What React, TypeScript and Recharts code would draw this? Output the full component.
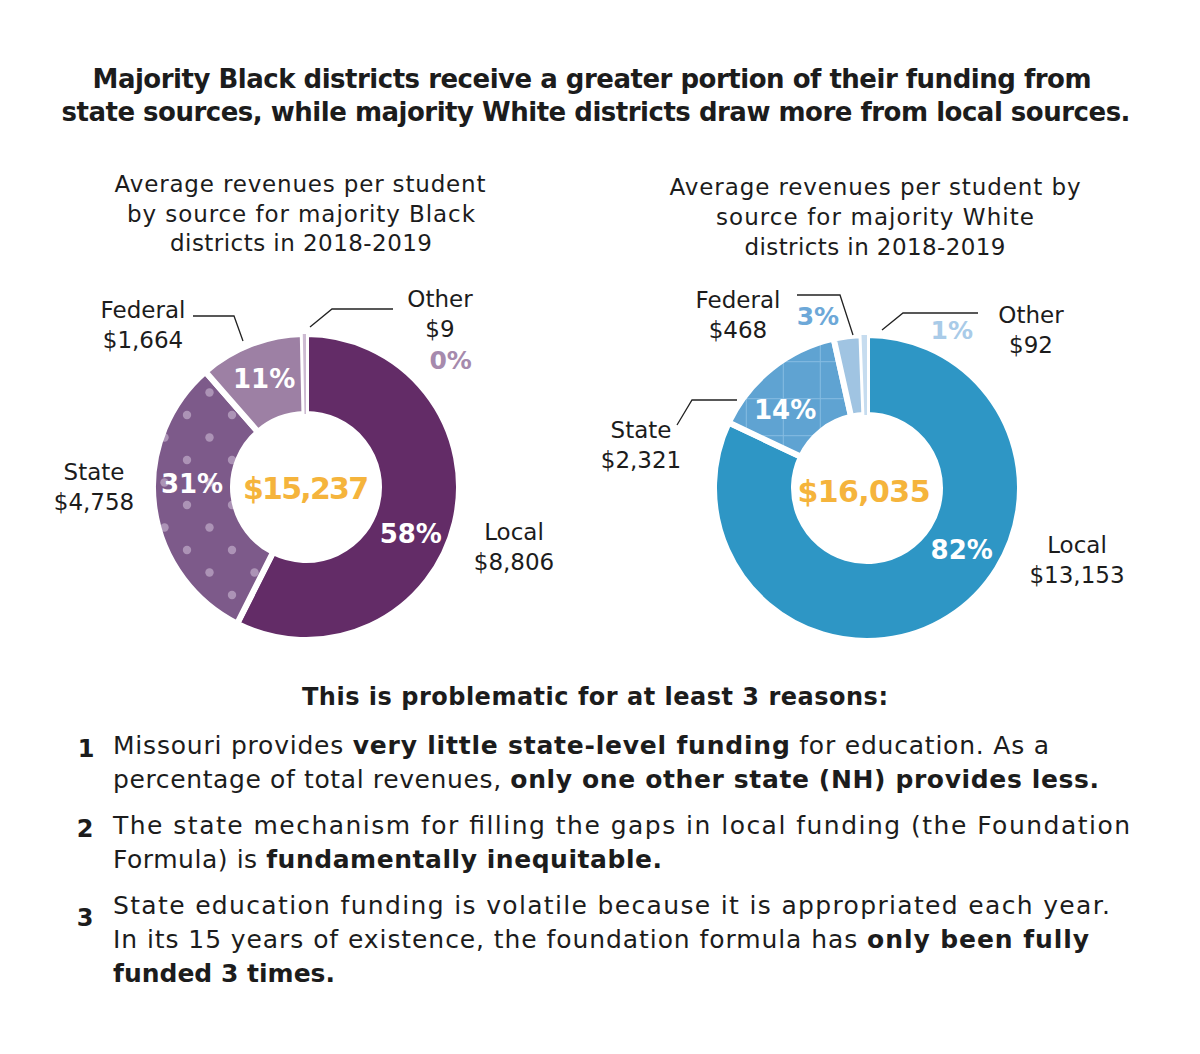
import React from 'react';
import { PieChart, Pie, Cell } from 'recharts';

// ---- data ----
const sources = ['Local', 'State', 'Federal', 'Other'];
const blackValues = [8806, 4758, 1664, 9];
const whiteValues = [13153, 2321, 468, 92];
const totalLabels = ['$15,237', '$16,035'];

const blackFills = ['#632C67', 'url(#dotsPattern)', '#9D80A4', '#CDBBD2'];
const whiteFills = ['#2E96C5', 'url(#gridPattern)', '#A0C4E2', '#C6DCEF'];
// percent label colour (inside slices white, outside slices tinted)
const blackLabelColors = ['#fff', '#fff', '#fff', '#A68AAD'];
const whiteLabelColors = ['#fff', '#fff', '#6DA8D8', '#A9CBE8'];
// label placement relative to slice mid angle: [angle offset (deg), radius]
const blackLabelPos = [[-11, 115], [-8.5, 114], [0, 116], [-49.5, 192]];
const whiteLabelPos = [[24.6, 113], [7.8, 113], [8.7, 178], [-29.3, 179]];

const FONT = '"DejaVu Sans", sans-serif';

const blackData = sources.map((s, i) => ({ name: s, value: blackValues[i] }));
const whiteData = sources.map((s, i) => ({ name: s, value: whiteValues[i] }));

const RAD = Math.PI / 180;

function makeLabel(pos: number[][], colors: string[]) {
  return (props: any) => {
    const { cx, cy, midAngle, percent, index } = props;
    const [off, r] = pos[index];
    const a = (midAngle + off) * RAD;
    const x = cx + r * Math.cos(a);
    const y = cy - r * Math.sin(a);
    return (
      <text
        key={'l' + index}
        x={x}
        y={y}
        fill={colors[index]}
        textAnchor="middle"
        dominantBaseline="central"
        fontFamily={FONT}
        fontWeight="bold"
        fontSize={colors[index] !== '#fff' ? 25 : 26}
      >
        {Math.round(percent * 100) + '%'}
      </text>
    );
  };
}

const money = (v: number) => '$' + v.toLocaleString('en-US');

type TP = {
  x: number;
  y: number;
  fs: number;
  w?: number;
  bold?: boolean;
  anchor?: 'start' | 'middle' | 'end';
  fill?: string;
  children: React.ReactNode;
};
const T = ({ x, y, fs, w, bold, anchor = 'middle', fill = '#1c1c1c', children }: TP) => (
  <text
    x={x}
    y={y}
    fontSize={fs}
    fontFamily={FONT}
    fontWeight={bold ? 'bold' : 'normal'}
    textAnchor={anchor}
    fill={fill}
    textLength={w}
    lengthAdjust={w ? 'spacing' : undefined}
  >
    {children}
  </text>
);
const B = ({ children }: { children: React.ReactNode }) => <tspan fontWeight="bold">{children}</tspan>;

const line = { stroke: '#222', strokeWidth: 1.3, fill: 'none' };
const ZERO = { top: 0, right: 0, bottom: 0, left: 0 };

export default function App() {
  return (
    <div style={{ position: 'absolute', left: 0, top: 0, width: 1200, height: 1054, background: '#fff' }}>
      <svg width={1200} height={1054} style={{ position: 'absolute', left: 0, top: 0 }}>
        <defs>
          <pattern id="dotsPattern" patternUnits="userSpaceOnUse" width={45} height={45}>
            <rect width={45} height={45} fill="#7D5A8A" />
            <circle cx={7} cy={10} r={4.2} fill="#AC93B6" />
            <circle cx={29.5} cy={32.5} r={4.2} fill="#AC93B6" />
          </pattern>
          <pattern id="gridPattern" patternUnits="userSpaceOnUse" width={37} height={37}>
            <rect width={37} height={37} fill="#5FA3D2" />
            <line x1={6.3} y1={0} x2={6.3} y2={37} stroke="#86BCE2" strokeWidth={1} />
            <line x1={0} y1={28.7} x2={37} y2={28.7} stroke="#86BCE2" strokeWidth={1} />
          </pattern>
        </defs>
      </svg>
      <div style={{ position: 'absolute', left: 0, top: 0 }}>
        <PieChart width={1200} height={1054} margin={ZERO}>
          <Pie
            data={blackData}
            dataKey="value"
            nameKey="name"
            cx={306}
            cy={487}
            innerRadius={73}
            outerRadius={153}
            startAngle={90}
            endAngle={-270}
            minAngle={1}
            stroke="#fff"
            strokeWidth={6}
            isAnimationActive={false}
            label={makeLabel(blackLabelPos, blackLabelColors)}
            labelLine={false}
          >
            {blackData.map((d, i) => (
              <Cell key={d.name} fill={blackFills[i]} stroke={i === 3 ? 'none' : '#fff'} />
            ))}
          </Pie>
          <Pie
            data={whiteData}
            dataKey="value"
            nameKey="name"
            cx={867}
            cy={488}
            innerRadius={73}
            outerRadius={153}
            startAngle={90}
            endAngle={-270}
            stroke="#fff"
            strokeWidth={6}
            isAnimationActive={false}
            label={makeLabel(whiteLabelPos, whiteLabelColors)}
            labelLine={false}
          >
            {whiteData.map((d, i) => (
              <Cell key={d.name} fill={whiteFills[i]} stroke={i === 3 ? 'none' : '#fff'} />
            ))}
          </Pie>
        </PieChart>
      </div>
      <svg width={1200} height={1054} style={{ position: 'absolute', left: 0, top: 0, pointerEvents: 'none' }}>
        {/* title */}
        <T x={592} y={88} fs={26} w={999} bold>Majority Black districts receive a greater portion of their funding from</T>
        <T x={596} y={121} fs={26} w={1069} bold>state sources, while majority White districts draw more from local sources.</T>

        {/* subtitles */}
        <T x={300} y={192} fs={23} w={371}>Average revenues per student</T>
        <T x={301} y={222} fs={23} w={348}>by source for majority Black</T>
        <T x={301} y={251} fs={23} w={262}>districts in 2018-2019</T>
        <T x={875} y={195} fs={23} w={411}>Average revenues per student by</T>
        <T x={875} y={225} fs={23} w={318}>source for majority White</T>
        <T x={875} y={255} fs={23} w={261}>districts in 2018-2019</T>

        {/* left labels */}
        <T x={143} y={318} fs={23}>{sources[2]}</T>
        <T x={143} y={348} fs={23}>{money(blackValues[2])}</T>
        <T x={440} y={307} fs={23}>{sources[3]}</T>
        <T x={440} y={337} fs={23}>{money(blackValues[3])}</T>
        <T x={94} y={480} fs={23}>{sources[1]}</T>
        <T x={94} y={510} fs={23}>{money(blackValues[1])}</T>
        <T x={514} y={540} fs={23}>{sources[0]}</T>
        <T x={514} y={570} fs={23}>{money(blackValues[0])}</T>
        <T x={306} y={499} fs={30} w={126} bold fill="#F5B43C">{totalLabels[0]}</T>

        {/* right labels */}
        <T x={738} y={308} fs={23}>{sources[2]}</T>
        <T x={738} y={338} fs={23}>{money(whiteValues[2])}</T>
        <T x={1031} y={323} fs={23}>{sources[3]}</T>
        <T x={1031} y={353} fs={23}>{money(whiteValues[3])}</T>
        <T x={641} y={438} fs={23}>{sources[1]}</T>
        <T x={641} y={468} fs={23}>{money(whiteValues[1])}</T>
        <T x={1077} y={553} fs={23}>{sources[0]}</T>
        <T x={1077} y={583} fs={23}>{money(whiteValues[0])}</T>
        <T x={864} y={502} fs={30} w={133} bold fill="#F5B43C">{totalLabels[1]}</T>

        {/* leader lines */}
        <polyline points="193,316 234,316 243,341" {...line} />
        <polyline points="310,327 332,309 393,309" {...line} />
        <polyline points="797,295 840,295 853,335" {...line} />
        <polyline points="882,330 903,313 978,313" {...line} />
        <polyline points="677,425 692,400 737,400" {...line} />

        {/* bottom text */}
        <T x={595} y={705} fs={24} w={586} bold>This is problematic for at least 3 reasons:</T>
        <T x={86} y={757} fs={24} bold>1</T>
        <T x={85} y={837} fs={24} bold>2</T>
        <T x={85} y={926} fs={24} bold>3</T>
        <T x={113} y={754} fs={25} w={936} anchor="start">
          Missouri provides <B>very little state-level funding</B> for education. As a
        </T>
        <T x={113} y={788} fs={25} w={986} anchor="start">
          percentage of total revenues, <B>only one other state (NH) provides less.</B>
        </T>
        <T x={113} y={834} fs={25} w={1017} anchor="start">
          The state mechanism for filling the gaps in local funding (the Foundation
        </T>
        <T x={113} y={868} fs={25} w={549} anchor="start">
          Formula) is <B>fundamentally inequitable.</B>
        </T>
        <T x={113} y={914} fs={25} w={997} anchor="start">
          State education funding is volatile because it is appropriated each year.
        </T>
        <T x={113} y={948} fs={25} w={976} anchor="start">
          In its 15 years of existence, the foundation formula has <B>only been fully</B>
        </T>
        <T x={113} y={982} fs={25} w={222} anchor="start" bold>
          funded 3 times.
        </T>
      </svg>
    </div>
  );
}
